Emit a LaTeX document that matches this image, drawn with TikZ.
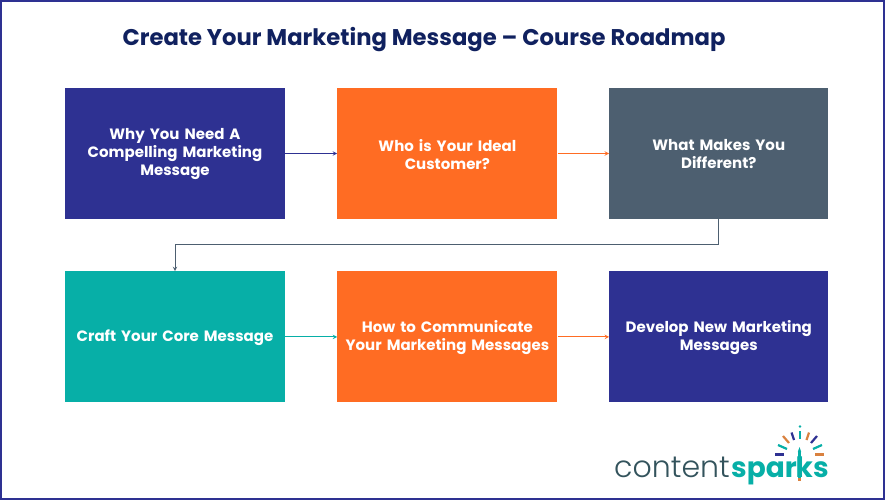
\documentclass[tikz,border=0pt]{standalone}
\usepackage{fontspec}
\setmainfont{Poppins}
\newfontfamily\logofont{Poppins Light}
\usepackage{tikz}
\usetikzlibrary{arrows}
\usetikzlibrary{positioning}
\definecolor{navy}{HTML}{2E3192}
\definecolor{tangerine}{HTML}{FF6C23}
\definecolor{slate}{HTML}{4D5F70}
\definecolor{teal2}{HTML}{07AFA7}
\definecolor{titleblue}{HTML}{10215F}
\definecolor{sparkorange}{HTML}{D9813F}
\definecolor{logogrey}{HTML}{33535C}
\tikzset{
    topic/.style={rectangle, minimum width=220pt, minimum height=131pt, inner sep=0pt,
        text width=212pt, align=center, text=white, font=\fontsize{15}{18}\selectfont\bfseries,
        execute at end node=\vspace{-1.5pt}},
    link/.style={-stealth, line width=1pt},
    ray/.style={line width=2.2pt},
    wordmark/.style={anchor=base west, inner sep=0pt}
}
\begin{document}
\begin{tikzpicture}
                [node distance=52pt]
                \useasboundingbox (0,0) rectangle (886pt,-500pt);
                \draw [navy, line width=2.4pt] (1.2pt,-1.2pt) rectangle (884pt,-498.8pt);
                \node (title) [text=titleblue, font=\fontsize{22.7}{28}\selectfont\bfseries] at (424pt,-40pt) {Create Your Marketing Message -- Course Roadmap};
                \node (why) [topic, fill=navy] at (175pt,-153.5pt) {Why You Need A\\Compelling Marketing\\Message};
                \node (who) [topic, fill=tangerine, right=of why] {Who is Your Ideal\\Customer?};
                \node (different) [topic, fill=slate, right=51.5pt of who, minimum width=219pt] {What Makes You\\Different?};
                \node (craft) [topic, fill=teal2, below=of why] {Craft Your Core Message};
                \node (communicate) [topic, fill=tangerine, right=of craft] {How to Communicate\\Your Marketing Messages};
                \node (develop) [topic, fill=navy, right=51.5pt of communicate, minimum width=219pt] {Develop New Marketing\\Messages};
                \draw [link, navy] (why) -- (who);
                \draw [link, tangerine] (who) -- (different);
                \draw [link, slate] (different.south) -- ++(0,-25pt) -| (craft.north);
                \draw [link, teal2] (craft) -- (communicate);
                \draw [link, tangerine] (communicate) -- (develop);
                % logo
                \node (content) [wordmark, text=logogrey, font=\fontsize{30}{30}\selectfont\logofont] at (614pt,-477pt) {content};
                \node (spar) [wordmark, text=teal2, font=\fontsize{28}{28}\selectfont\bfseries] at (731pt,-477pt) {spar};
                \node (ks) [wordmark, text=teal2, font=\fontsize{28}{28}\selectfont\bfseries] at (795.5pt,-477pt) {ks};
                \draw [teal2, line width=3.4pt] (799.5pt,-452pt) -- (799.5pt,-478pt);
                \draw [sparkorange, line width=3.4pt] (799.5pt,-478pt) -- (799.5pt,-481pt);
                \fill [teal2] (797.8pt,-452pt) -- (799.5pt,-447pt) -- (801.2pt,-452pt) -- cycle;
                \draw [ray, teal2] (800pt,-431pt) -- (800pt,-439pt);
                \fill [teal2] (800pt,-426.5pt) circle (1.3pt);
                \draw [ray, navy] (791.5pt,-432.5pt) -- (794pt,-440pt);
                \draw [ray, sparkorange] (809pt,-432.5pt) -- (806.5pt,-440pt);
                \draw [ray, sparkorange] (783pt,-436pt) -- (789pt,-443pt);
                \draw [ray, navy] (817pt,-436pt) -- (811pt,-443pt);
                \draw [ray, teal2] (778pt,-445pt) -- (787pt,-449pt);
                \draw [ray, teal2] (822pt,-445pt) -- (813pt,-449pt);
                \draw [ray, navy] (775pt,-454.5pt) -- (784pt,-454.5pt);
                \draw [ray, sparkorange] (815pt,-454.5pt) -- (824pt,-454.5pt);
            \end{tikzpicture}
\end{document}
